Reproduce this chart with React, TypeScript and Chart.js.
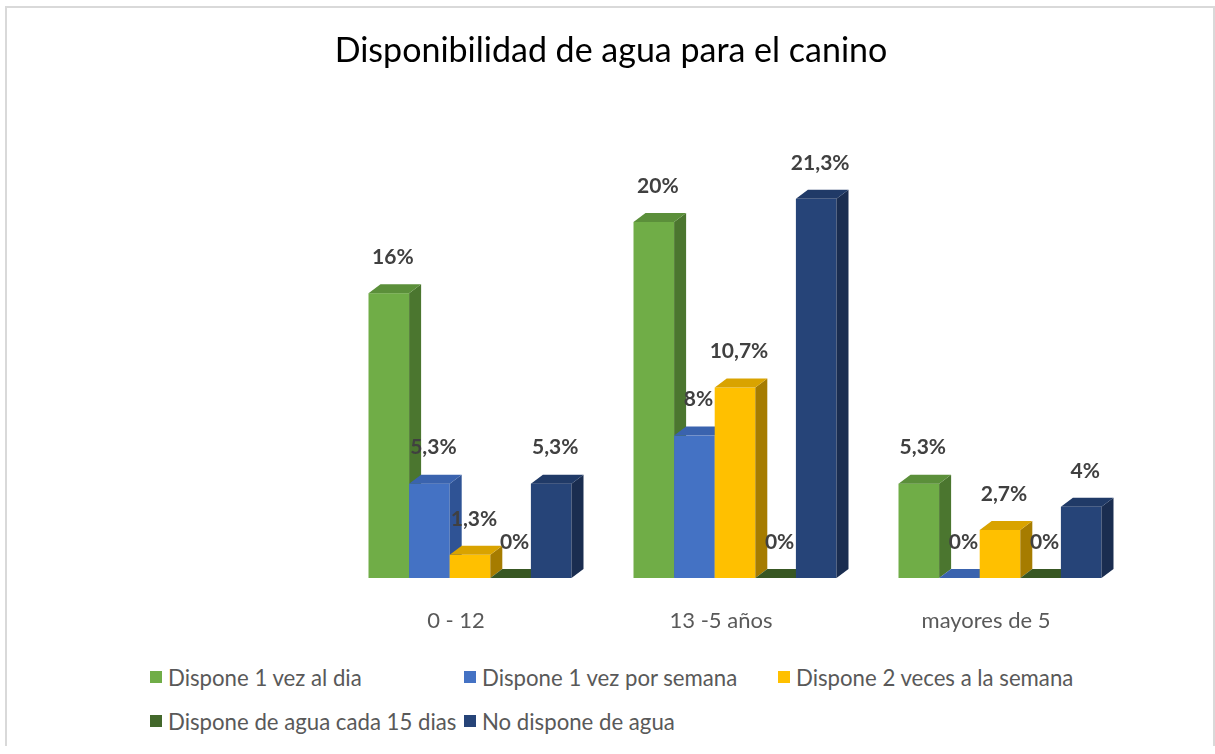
import React, { useEffect, useRef } from "react";
import { Chart, registerables } from "chart.js";

Chart.register(...registerables);

const title = "Disponibilidad de agua para el canino";
const categories = ["0 - 12", "13 -5 años", "mayores de 5"];
const seriesNames = [
  "Dispone 1 vez al dia",
  "Dispone 1 vez por semana",
  "Dispone 2 veces a la semana",
  "Dispone de agua cada 15 dias",
  "No dispone de agua",
];
const unaVezAlDia = [16, 20, 5.3];
const unaVezPorSemana = [5.3, 8, 0];
const dosVecesSemana = [1.3, 10.7, 2.7];
const cada15Dias = [0, 0, 0];
const noDispone = [5.3, 21.3, 4];

const frontColors = ["#70AD47", "#4472C4", "#FFC000", "#43682B", "#264478"];
const topColors = ["#5B8F3A", "#3A63AE", "#D9A300", "#385723", "#203A67"];
const sideColors = ["#4B762F", "#2F5395", "#A67C00", "#2C451C", "#1A2D50"];

const DX = 12;
const DY = 9;

const fmt = (v: number) => String(v).replace(".", ",") + "%";

const bars3d = {
  id: "bars3d",
  beforeDatasetsDraw(chart: any) {
    const ctx = chart.ctx;
    const nDs = chart.data.datasets.length;
    ctx.save();
    for (let i = 0; i < categories.length; i++) {
      for (let di = 0; di < nDs; di++) {
        const el = chart.getDatasetMeta(di).data[i];
        const { x, y, base, width } = el.getProps(["x", "y", "base", "width"], true);
        const l = x - width / 2;
        const r = x + width / 2;
        if (base - y > 0) {
          ctx.fillStyle = frontColors[di];
          ctx.fillRect(l, y, width, base - y);
        }
        ctx.fillStyle = sideColors[di];
        ctx.beginPath();
        ctx.moveTo(r, y);
        ctx.lineTo(r + DX, y - DY);
        ctx.lineTo(r + DX, base - DY);
        ctx.lineTo(r, base);
        ctx.closePath();
        ctx.fill();
        ctx.fillStyle = topColors[di];
        ctx.beginPath();
        ctx.moveTo(l, y);
        ctx.lineTo(l + DX, y - DY);
        ctx.lineTo(r + DX, y - DY);
        ctx.lineTo(r, y);
        ctx.closePath();
        ctx.fill();
      }
    }
    ctx.font = "bold 21px Lato";
    ctx.fillStyle = "#404040";
    ctx.textAlign = "center";
    ctx.textBaseline = "middle";
    for (let di = 0; di < nDs; di++) {
      const meta = chart.getDatasetMeta(di);
      const vals = chart.data.datasets[di].data as number[];
      meta.data.forEach((el: any, i: number) => {
        const { x, y } = el.getProps(["x", "y"], true);
        ctx.fillText(fmt(vals[i]), x + 4, y - 36);
      });
    }
    ctx.restore();
    return false;
  },
};

export default function App() {
  const ref = useRef<HTMLCanvasElement>(null);
  useEffect(() => {
    if (!ref.current) return;
    const chart = new Chart(ref.current, {
      type: "bar",
      data: {
        labels: categories,
        datasets: [unaVezAlDia, unaVezPorSemana, dosVecesSemana, cada15Dias, noDispone].map((d, i) => ({
          label: seriesNames[i],
          data: d,
          backgroundColor: frontColors[i],
          categoryPercentage: 0.766,
          barPercentage: 1,
        })),
      },
      options: {
        responsive: false,
        animation: false,
        devicePixelRatio: 1,
        layout: { padding: { left: 337.5, right: 82.5, top: 133, bottom: 0 } },
        plugins: {
          legend: { display: false },
          title: { display: false },
          tooltip: { enabled: false },
        },
        scales: {
          x: {
            grid: { display: false, drawTicks: false },
            border: { display: false },
            ticks: {
              font: { family: "Lato", size: 22 },
              color: "#595959",
              padding: 30,
              labelOffset: -14,
            },
            afterFit: (s: any) => {
              s.height = 82;
            },
          },
          y: { display: false, min: 0, max: 25 },
        },
      },
      plugins: [bars3d],
    });
    return () => chart.destroy();
  }, []);

  const legendFont = "Lato, sans-serif";
  return (
    <div>
      <div
        style={{
          position: "absolute",
          left: 5,
          top: 6,
          width: 1210,
          height: 740,
          borderTop: "2px solid #D9D9D9",
          borderLeft: "2px solid #D9D9D9",
          borderRight: "2px solid #D9D9D9",
          boxSizing: "border-box",
          background: "#fff",
        }}
      />
      <canvas
        ref={ref}
        width={1215}
        height={660}
        style={{ position: "absolute", left: 0, top: 0, width: 1215, height: 660 }}
      />
      <div
        style={{
          position: "absolute",
          left: 0,
          top: 29,
          width: 1222,
          textAlign: "center",
          fontFamily: legendFont,
          fontSize: 34,
          lineHeight: "40px",
          color: "#000",
        }}
      >
        {title}
      </div>
      {seriesNames.map((name, i) => {
        const col = i % 3;
        const row = Math.floor(i / 3);
        return (
          <div
            key={name}
            style={{
              position: "absolute",
              left: 150 + col * 314,
              top: 677 + row * 44 - 15,
              height: 30,
              display: "flex",
              alignItems: "center",
              whiteSpace: "nowrap",
              fontFamily: legendFont,
              fontSize: 22.2,
              color: "#595959",
            }}
          >
            <span
              style={{
                display: "inline-block",
                width: 12,
                height: 12,
                background: frontColors[i],
                marginRight: 6,
              }}
            />
            {name}
          </div>
        );
      })}
    </div>
  );
}
